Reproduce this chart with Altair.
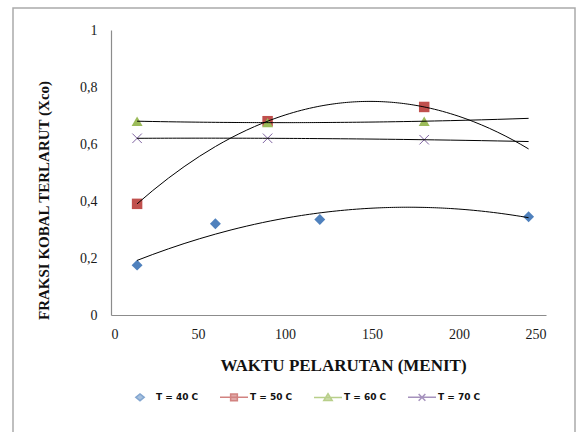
import altair as alt
import pandas as pd

# ---- data ----
series = ["T = 40 C", "T = 50 C", "T = 60 C", "T = 70 C"]

time_40 = [15, 60, 120, 240]
frac_40 = [0.175, 0.32, 0.335, 0.345]

time_50 = [15, 90, 180]
frac_50 = [0.39, 0.68, 0.73]

time_60 = [15, 90, 180]
frac_60 = [0.68, 0.675, 0.68]

time_70 = [15, 90, 180]
frac_70 = [0.62, 0.62, 0.615]

x_ticks = [0, 50, 100, 150, 200, 250]
y_ticks = [0, 0.2, 0.4, 0.6, 0.8, 1.0]

# ---- styles ----
colors = ["#4F81BD", "#C0504D", "#9BBB59", "#8064A2"]
X_PATH = "M-1,-1L1,1M-1,1L1,-1"
point_shapes = ["diamond", "square", "triangle-up", X_PATH]
point_sizes = [120, 110, 120, 90]
point_filled = [True, True, True, False]
legend_shapes = [
    "M-0.3,0L0,-0.24L0.3,0L0,0.24Z",
    "M-1,0L1,0M-0.24,-0.24L0.24,-0.24L0.24,0.24L-0.24,0.24Z",
    "M-1,0L1,0M0,-0.27L0.3,0.22L-0.3,0.22Z",
    "M-1,0L1,0M-0.24,-0.24L0.24,0.24M-0.24,0.24L0.24,-0.24",
]

rows = []
for name, ts, fs in zip(series, [time_40, time_50, time_60, time_70],
                        [frac_40, frac_50, frac_60, frac_70]):
    for t, f in zip(ts, fs):
        rows.append({"series": name, "t": t, "x": f})
df = pd.DataFrame(rows)

serif = "Liberation Serif"

x_scale = alt.Scale(domain=[0, 250], nice=False, padding=0, zero=False)
y_scale = alt.Scale(domain=[0, 1], nice=False, padding=0)

x_axis = alt.Axis(
    values=x_ticks, grid=False, ticks=False, domainColor="#8c8c8c", domainWidth=1.2,
    labelFont=serif, labelFontSize=14, labelColor="#1a1a1a", labelPadding=12,
    title="WAKTU PELARUTAN (MENIT)", titleFont=serif, titleFontSize=17,
    titleFontWeight="bold", titleColor="#111111", titleX=232, titleY=50,
    titleBaseline="middle", titleAlign="center",
)
y_axis = alt.Axis(
    values=y_ticks, grid=False, ticks=False, domainColor="#8c8c8c", domainWidth=1.2,
    labelFont=serif, labelFontSize=14, labelColor="#1a1a1a", labelPadding=14,
    labelExpr="replace(format(datum.value, '~g'), '.', ',')",
    title="FRAKSI KOBAL TERLARUT (Xco)", titleFont=serif, titleFontSize=15,
    titleFontWeight="bold", titleColor="#111111", titleAngle=270,
    titleX=-68, titleY=170, titleAlign="center", titleBaseline="middle",
)

base = alt.Chart(df)

layers = []

# frame of the chart area (decoration)
frame = alt.Chart(pd.DataFrame({"a": [0]})).mark_rect(
    fillOpacity=0, stroke="#ababab", strokeWidth=1.5
).encode(
    x=alt.value(-98), x2=alt.value(464), y=alt.value(-22), y2=alt.value(412)
)
layers.append(frame)

# data points
for i, name in enumerate(series):
    pts = base.transform_filter(alt.datum.series == name).mark_point(
        shape=point_shapes[i], size=point_sizes[i], filled=point_filled[i],
        color=colors[i], opacity=1, strokeWidth=1,
    ).encode(
        x=alt.X("t:Q", scale=x_scale, axis=x_axis),
        y=alt.Y("x:Q", scale=y_scale, axis=y_axis),
    )
    layers.append(pts)

# polynomial (order 2) trend lines
for i, name in enumerate(series):
    trend = base.transform_filter(alt.datum.series == name).transform_regression(
        "t", "x", method="poly", order=2, extent=[15, 240]
    ).mark_line(color="#000000", strokeWidth=1).encode(
        x=alt.X("t:Q", scale=x_scale),
        y=alt.Y("x:Q", scale=y_scale),
    )
    layers.append(trend)

# legend layer (no marks drawn, only the legend)
leg_df = pd.DataFrame({"series": series})
legend = alt.Legend(
    orient="none", legendX=14, legendY=352, direction="horizontal", columns=4,
    symbolSize=784, symbolStrokeWidth=1.5, labelFont="DejaVu Sans",
    labelFontSize=9, labelFontWeight="bold", labelColor="#111111", labelOffset=1,
    columnPadding=18, padding=0, title=None,
)
leg_layer = alt.Chart(leg_df).transform_filter("false").mark_point(filled=True).encode(
    x=alt.X("t:Q", scale=x_scale),
    y=alt.Y("x:Q", scale=y_scale),
    fill=alt.Fill("series:N", scale=alt.Scale(domain=series, range=colors), legend=legend),
    stroke=alt.Stroke("series:N", scale=alt.Scale(domain=series, range=colors), legend=legend),
    shape=alt.Shape("series:N", scale=alt.Scale(domain=series, range=legend_shapes), legend=legend),
).transform_calculate(t="0", x="0")
layers.append(leg_layer)

chart = alt.layer(*layers).properties(
    width=435, height=285,
    autosize=alt.AutoSizeParams(type="none"),
    padding={"left": 111, "top": 30, "right": 30, "bottom": 117},
    background="white",
).configure_view(stroke=None)

chart.save("out.html", embed_options={"renderer": "svg", "actions": False})
